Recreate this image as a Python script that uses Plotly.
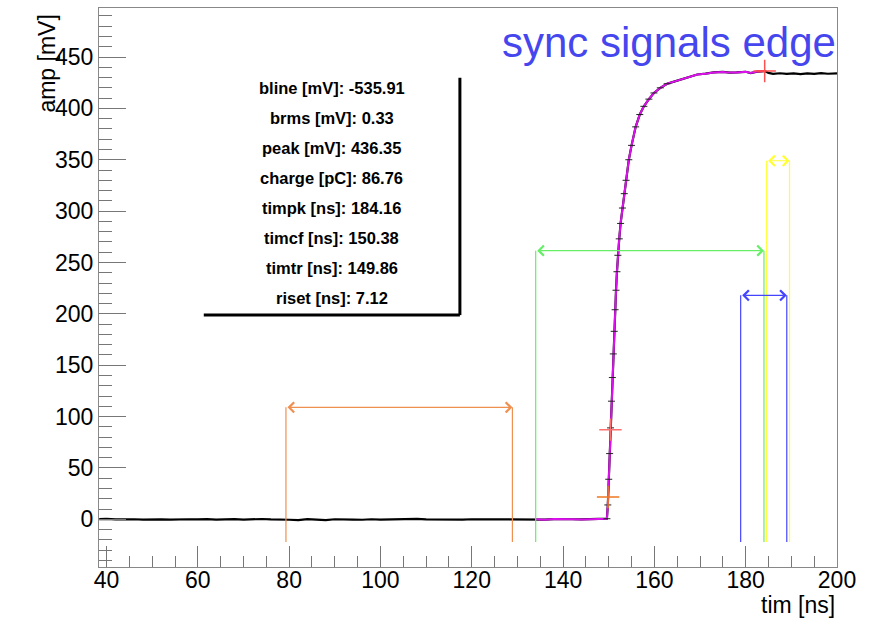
import plotly.graph_objects as go

# ---------------- data ----------------
t_base = [38.4, 40.0, 42.0, 44.0, 46.0, 48.0, 50.0, 52.0, 54.0, 56.0, 58.0, 60.0,
          62.0, 64.0, 66.0, 68.0, 70.0, 72.0, 74.0, 76.0, 78.0, 80.0, 82.0, 84.0,
          86.0, 88.0, 90.0, 92.0, 94.0, 96.0, 98.0, 100.0, 102.0, 104.0, 106.0,
          108.0, 110.0, 112.0, 114.0, 116.0, 118.0, 120.0, 122.0, 124.0, 126.0,
          128.0, 130.0, 132.0, 134.0, 136.0, 138.0, 140.0, 142.0, 144.0, 146.0,
          148.0, 149.6]
a_base = [0.2, 0.4, -0.1, 0.3, 0.1, -0.3, 0.2, 0.0, -0.2, 0.3, 0.1, -0.1,
          0.2, -0.3, 0.0, 0.2, -0.2, 0.1, 0.3, -0.1, 0.0, -0.4, -0.8, 0.2,
          -0.3, -0.7, 0.1, 0.3, -0.2, -0.4, 0.1, -0.2, 0.0, -0.5, 0.2,
          0.4, -0.1, -0.3, 0.2, -0.5, -0.2, 0.1, 0.0, 0.3, 0.1,
          0.4, -0.1, 0.2, 0.0, -0.3, 0.2, -0.2, 0.1, -0.1, 0.3,
          0.0, 0.6]

t_rise = [149.8, 150.0, 150.2, 150.4, 150.6, 150.8, 151.0, 151.2, 151.4, 151.6,
          151.8, 152.0, 152.3, 152.6, 153.0, 153.4, 153.8, 154.4, 155.0, 155.9,
          156.8, 157.7, 158.8, 159.9, 161.3, 162.8, 164.3, 165.8, 167.6, 169.4,
          171.2, 173.0, 175.0, 176.5, 178.0, 180.0, 181.1, 182.5, 184.16]
a_rise = [14, 39, 64, 89, 115, 138, 161, 183, 204, 223,
          241, 257, 273, 288, 303, 317, 330, 350, 364, 382,
          394, 402, 409, 415, 420, 424, 426, 428, 431, 433,
          433.8, 435, 435.5, 434.8, 435, 435.6, 434.4, 435.8, 436.35]

t_tail = [185.0, 186.0, 187.5, 189.0, 190.5, 192.0, 193.5, 195.0, 196.5, 198.0, 200.0]
a_tail = [434.6, 433.6, 434.2, 433.5, 434.0, 433.3, 434.1, 433.6, 434.3, 433.7, 434.0]

fit_start, fit_end = 134.0, 184.16
peak_seg_start = 182.5
errbar_end = 163.0

# time markers (crosses): timtr, timcf, peak
cross_t = [149.86, 150.38, 184.16]
cross_a = [21.8, 87.3, 436.35]
cross_colors = ["#ee7722", "#ff6f6f", "#ff5050"]

# double arrows (left x, right x, level) and their vertical legs
arrow_x1 = [79.3, 134.0, 184.6, 178.9]
arrow_x2 = [128.9, 184.0, 189.6, 189.0]
arrow_y = [109.0, 261.5, 349.0, 218.0]
arrow_colors = ["#f09050", "#66ee66", "#ffff33", "#4444ff"]
leg_bottom = -22.0

stats_labels = ["bline [mV]: -535.91", "brms [mV]: 0.33", "peak [mV]: 436.35",
                "charge [pC]: 86.76", "timpk [ns]: 184.16", "timcf [ns]: 150.38",
                "timtr [ns]: 149.86", "riset [ns]: 7.12"]

title_text = "sync signals edge"
x_title = "tim [ns]"
y_title = "amp [mV]"

# ---------------- build ----------------
t_all = t_base + t_rise + t_tail
a_all = a_base + a_rise + a_tail

fit_t = [t for t in t_all if fit_start <= t <= fit_end]
fit_a = [a for t, a in zip(t_all, a_all) if fit_start <= t <= fit_end]
pk_t = [t for t in t_all if peak_seg_start <= t <= fit_end]
pk_a = [a for t, a in zip(t_all, a_all) if peak_seg_start <= t <= fit_end]
eb_t = [t for t in t_all if 149.5 <= t <= errbar_end]
eb_a = [a for t, a in zip(t_all, a_all) if 149.5 <= t <= errbar_end]

fig = go.Figure()

fig.add_trace(go.Scatter(x=t_all, y=a_all, mode="lines",
                         line=dict(color="black", width=2.2), hoverinfo="skip"))
fig.add_trace(go.Scatter(x=fit_t, y=fit_a, mode="lines",
                         line=dict(color="#dd11ee", width=2), hoverinfo="skip"))
fig.add_trace(go.Scatter(x=eb_t, y=eb_a, mode="markers",
                         marker=dict(symbol="line-ew", size=5,
                                     line=dict(color="#222", width=1)),
                         hoverinfo="skip"))
fig.add_trace(go.Scatter(x=pk_t, y=pk_a, mode="lines",
                         line=dict(color="#ee2244", width=2), hoverinfo="skip"))
for t, a, c in zip(cross_t, cross_a, cross_colors):
    fig.add_trace(go.Scatter(x=[t], y=[a], mode="markers",
                             marker=dict(symbol="cross-thin", size=16,
                                         line=dict(color=c, width=1.5)),
                             hoverinfo="skip"))

shapes = []
annotations = []
for x1, x2, y, c in zip(arrow_x1, arrow_x2, arrow_y, arrow_colors):
    for xv in (x1, x2):
        shapes.append(dict(type="line", xref="x", yref="y", x0=xv, x1=xv,
                           y0=leg_bottom, y1=y, line=dict(color=c, width=1.2)))
    annotations.append(dict(x=x2, y=y, ax=x1, ay=y, xref="x", yref="y",
                            axref="x", ayref="y", text="", showarrow=True,
                            arrowhead=4, arrowside="end+start", arrowsize=1.8,
                            arrowwidth=1.1, arrowcolor=c, standoff=0,
                            startstandoff=0))

# stats box text
stat_x = 89.3
stat_y0 = 419.6
stat_step = 29.15
for i, s in enumerate(stats_labels):
    annotations.append(dict(x=stat_x, y=stat_y0 - i * stat_step, xref="x", yref="y",
                            text="<b>" + s + "</b>", showarrow=False,
                            xanchor="center", yanchor="middle",
                            font=dict(family="Liberation Sans, Arial", size=16.5,
                                      color="black")))
# stats box shadow border (right and bottom)
box_left, box_right, box_top, box_bottom = 61.3, 117.4, 429.8, 198.8
shapes.append(dict(type="line", xref="x", yref="y", x0=box_right, x1=box_right,
                   y0=box_top, y1=box_bottom, line=dict(color="black", width=3)))
shapes.append(dict(type="line", xref="x", yref="y", x0=box_left, x1=box_right,
                   y0=box_bottom, y1=box_bottom, line=dict(color="black", width=3)))

# titles
annotations.append(dict(x=1.002, y=0.939, xref="paper", yref="paper", text=title_text,
                        showarrow=False, xanchor="right", yanchor="middle",
                        font=dict(family="Liberation Sans, Arial", size=42,
                                  color="#4646ee")))
annotations.append(dict(x=1.0, y=-0.0686, xref="paper", yref="paper", text=x_title,
                        showarrow=False, xanchor="right", yanchor="middle",
                        font=dict(family="Liberation Sans, Arial", size=23,
                                  color="black")))
annotations.append(dict(x=-0.0717, y=0.9007, xref="paper", yref="paper", text=y_title,
                        showarrow=False, textangle=-90, xanchor="center",
                        yanchor="middle",
                        font=dict(family="Liberation Sans, Arial", size=23,
                                  color="black")))

axis_common = dict(showgrid=False, zeroline=False, showline=True, linecolor="#888",
                   linewidth=1.2, mirror=True, ticks="inside", tickcolor="#777",
                   tickwidth=1.2, automargin=False,
                   tickfont=dict(family="Liberation Sans, Arial", size=23,
                                 color="black"))

fig.update_layout(
    width=873, height=619,
    margin=dict(l=99, r=36, t=8, b=52),
    paper_bgcolor="white", plot_bgcolor="white",
    showlegend=False,
    xaxis=dict(range=[38.35, 200], tick0=40, dtick=20, ticklen=21,
               ticklabelstandoff=-8,
               minor=dict(ticks="inside", ticklen=11, dtick=5, tick0=40,
                          tickcolor="#777", tickwidth=1.2),
               **axis_common),
    yaxis=dict(range=[-46.4, 497.7], tick0=0, dtick=50, ticklen=27,
               minor=dict(ticks="inside", ticklen=13, dtick=10, tick0=0,
                          tickcolor="#777", tickwidth=1.2),
               **axis_common),
    shapes=shapes,
    annotations=annotations,
)

fig.write_html("out.html")
